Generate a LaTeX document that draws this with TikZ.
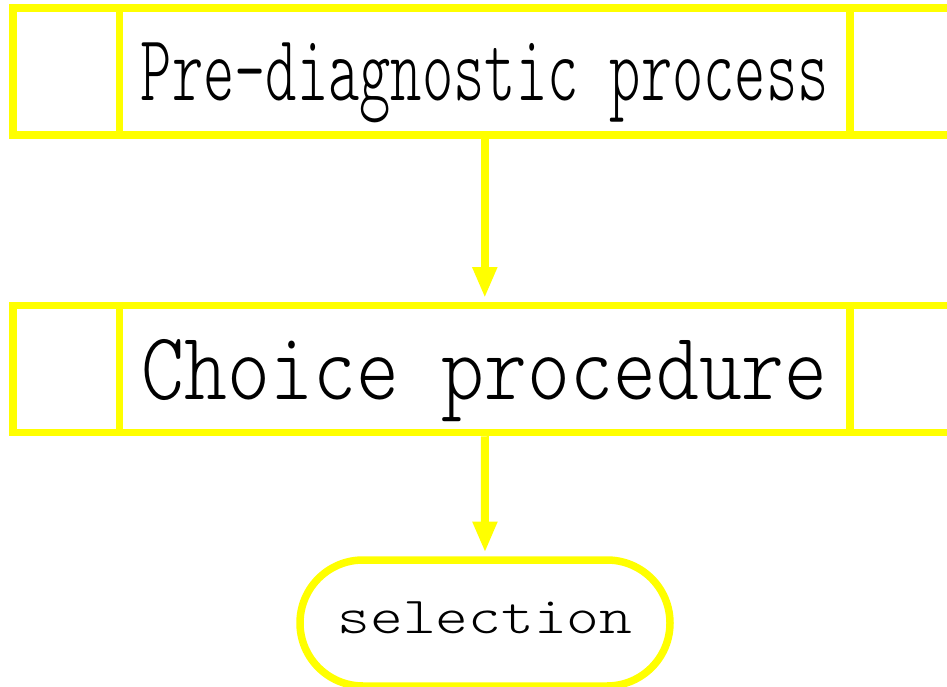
\documentclass[tikz,border=0pt]{standalone}
\usepackage{fontspec}
\newfontfamily\lightmono{Latin Modern Mono Light}
\usetikzlibrary{arrows.meta,calc}
\definecolor{flowyellow}{RGB}{255,255,0}
\begin{document}
\begin{tikzpicture}[x=1pt,y=-1pt,
  outline/.style={draw=flowyellow,line width=7.5pt},
  procbox/.style={outline,rectangle,minimum width=944pt,minimum height=127pt,
    inner sep=0pt,text depth=0pt,font=\lightmono},
  termbox/.style={outline,rectangle,rounded corners=63pt,minimum width=370pt,
    minimum height=126pt,inner sep=0pt,text depth=0pt,font=\lightmono},
  flowarrow/.style={draw=flowyellow,line width=8pt,
    -{Triangle[length=31pt,width=23pt]},shorten >=3.7pt}]
  \useasboundingbox (0,0) rectangle (947,687);
  \fill[white] (0,0) rectangle (947,687);

  % predefined-process boxes
  \node[procbox,text height=59pt] (pre) at (484.8,71.5)
    {\scalebox{0.631}[1]{\fontsize{94.4}{100}\selectfont Pre-diagnostic process}};
  \node[procbox,text height=60.6pt] (choice) at (484.8,369)
    {\scalebox{0.845}[1]{\fontsize{96.6}{100}\selectfont Choice procedure}};
  \foreach \b in {pre,choice}{
    \draw[outline] ($(\b.north west)+(110.5,0)$) -- ($(\b.south west)+(110.5,0)$);
    \draw[outline] ($(\b.north east)+(-110.5,0)$) -- ($(\b.south east)+(-110.5,0)$);
  }

  % terminal
  \node[termbox,text height=20.6pt] (sel) at (485,623)
    {\scalebox{1.2}[1]{\fontsize{52}{56}\selectfont selection}};

  % connectors
  \draw[flowarrow] (pre.south) -- (choice.north);
  \draw[flowarrow] (choice.south) -- (sel.north);
\end{tikzpicture}
\end{document}
